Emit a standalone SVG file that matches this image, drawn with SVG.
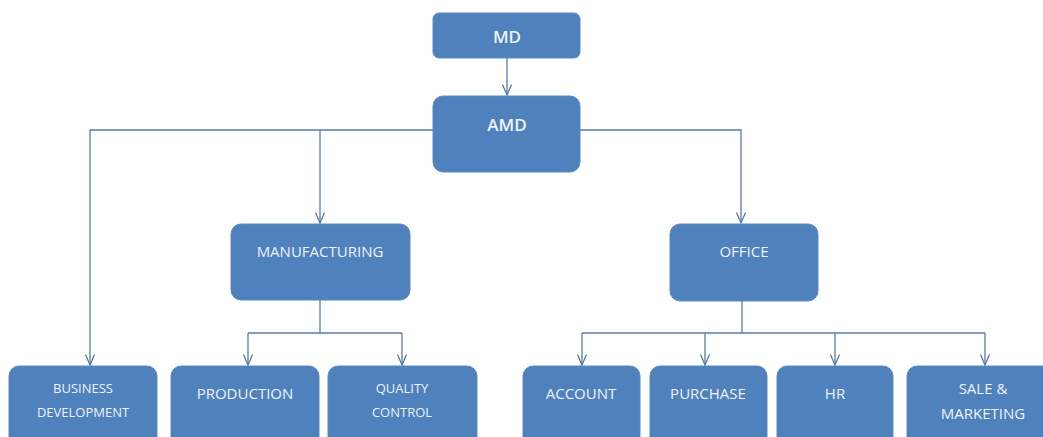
<svg xmlns="http://www.w3.org/2000/svg" width="1043" height="437" viewBox="0 0 1043 437">
<defs>
<style>
.box{fill:#4f81bd;stroke:#5b8ac4;stroke-width:1}
.t{font-family:"Open Sans","Liberation Sans",sans-serif;fill:#eef3fa;text-anchor:middle}
.c{fill:none;stroke:#5a7aa8;stroke-width:1.3}
</style>
<marker id="arr" viewBox="0 0 12 10" refX="11.5" refY="5" markerWidth="12" markerHeight="10" markerUnits="userSpaceOnUse" orient="auto">
<path d="M1,0.5 L11.5,5 L1,9.5" fill="none" stroke="#5a7aa8" stroke-width="1.3"/>
</marker>
<radialGradient id="glow" cx="0.5" cy="0" r="0.6">
<stop offset="0" stop-color="#e2e2e2"/>
<stop offset="1" stop-color="#ffffff" stop-opacity="0"/>
</radialGradient>
</defs>
<rect width="1043" height="437" fill="#ffffff"/>
<ellipse cx="520" cy="0" rx="200" ry="22" fill="url(#glow)"/>
<g id="connectors">
<path class="c" d="M507,58 V95" marker-end="url(#arr)"/>
<path class="c" d="M433,130 H90 V365" marker-end="url(#arr)"/>
<path class="c" d="M320,130 V223" marker-end="url(#arr)"/>
<path class="c" d="M580,130 H741 V223" marker-end="url(#arr)"/>
<path class="c" d="M320,300 V333"/>
<path class="c" d="M248,333 H402"/>
<path class="c" d="M248,333 V365" marker-end="url(#arr)"/>
<path class="c" d="M402,333 V365" marker-end="url(#arr)"/>
<path class="c" d="M742,301 V333"/>
<path class="c" d="M582,333 H985"/>
<path class="c" d="M582,333 V365" marker-end="url(#arr)"/>
<path class="c" d="M705,333 V365" marker-end="url(#arr)"/>
<path class="c" d="M835,333 V365" marker-end="url(#arr)"/>
<path class="c" d="M985,333 V365" marker-end="url(#arr)"/>
</g>
<g id="md"><rect class="box" x="433" y="13" width="147" height="45" rx="6"/><text class="t" x="507" y="43" font-size="17" font-weight="600">MD</text></g>
<g id="amd"><rect class="box" x="433" y="96" width="147" height="76" rx="10"/><text class="t" x="507" y="131" font-size="17" font-weight="600">AMD</text></g>
<g id="manufacturing"><rect class="box" x="231" y="224" width="179" height="76" rx="10"/><text class="t" x="320" y="257" font-size="15">MANUFACTURING</text></g>
<g id="office"><rect class="box" x="670" y="224" width="148" height="77" rx="10"/><text class="t" x="744" y="257" font-size="15">OFFICE</text></g>
<g id="business"><rect class="box" x="9" y="366" width="148" height="80" rx="10"/><text class="t" x="83" y="393" font-size="13">BUSINESS</text><text class="t" x="83" y="417" font-size="13">DEVELOPMENT</text></g>
<g id="production"><rect class="box" x="171" y="366" width="148" height="80" rx="10"/><text class="t" x="245" y="399" font-size="15">PRODUCTION</text></g>
<g id="quality"><rect class="box" x="328" y="366" width="149" height="80" rx="10"/><text class="t" x="402" y="393" font-size="13">QUALITY</text><text class="t" x="402" y="417" font-size="13">CONTROL</text></g>
<g id="account"><rect class="box" x="523" y="366" width="117" height="80" rx="10"/><text class="t" x="581" y="399" font-size="15">ACCOUNT</text></g>
<g id="purchase"><rect class="box" x="650" y="366" width="117" height="80" rx="10"/><text class="t" x="708" y="399" font-size="15">PURCHASE</text></g>
<g id="hr"><rect class="box" x="777" y="366" width="116" height="80" rx="10"/><text class="t" x="835" y="399" font-size="15">HR</text></g>
<g id="sale"><rect class="box" x="907" y="366" width="150" height="80" rx="10"/><text class="t" x="983" y="394" font-size="15">SALE &amp;</text><text class="t" x="983" y="419" font-size="15">MARKETING</text></g>
</svg>
